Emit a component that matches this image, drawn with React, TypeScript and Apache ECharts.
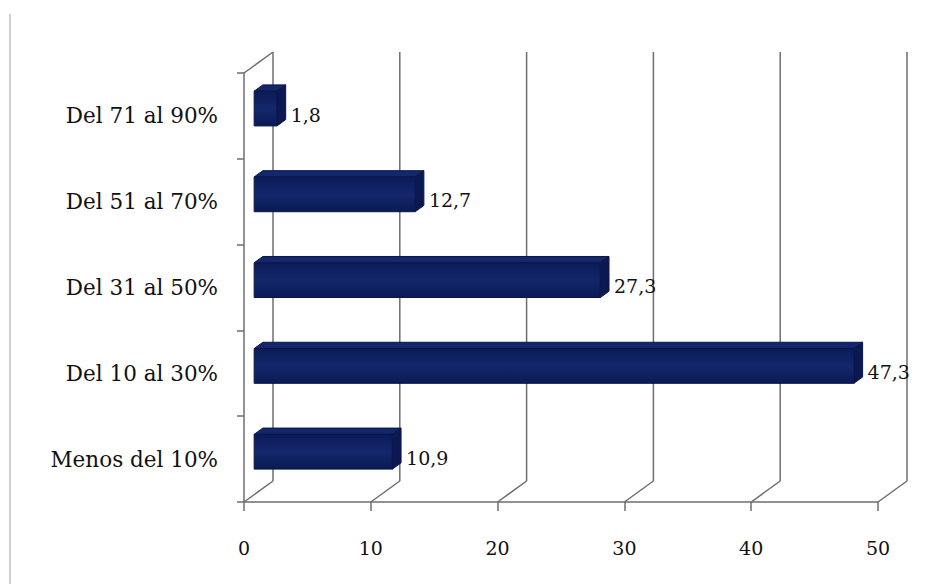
import React, { useEffect, useRef } from "react";
import * as echarts from "echarts";

// Categories bottom-to-top, as they appear on the vertical axis
const categories = [
  "Menos del 10%",
  "Del 10 al 30%",
  "Del 31 al 50%",
  "Del 51 al 70%",
  "Del 71 al 90%",
];
const percentages = [10.9, 47.3, 27.3, 12.7, 1.8];
const xTicks = [0, 10, 20, 30, 40, 50];

// Depth of the pseudo-3D box (back wall offset from the front plane)
const DEPTH_X = 29;
const DEPTH_Y = -21;
const FONT = "DejaVu Serif";

const fmt = (v: number) => String(v).replace(".", ",");

export default function App() {
  const ref = useRef<HTMLDivElement>(null);

  useEffect(() => {
    if (!ref.current) return;
    const chart = echarts.init(ref.current, undefined, { renderer: "svg" });

    const frameItem = (params: any, api: any) => {
      const v = api.value(0);
      const cs = params.coordSys;
      const x = api.coord([v, 0])[0];
      const top = cs.y;
      const bottom = cs.y + cs.height;
      const lineStyle = { stroke: "#6e6e6e", lineWidth: 1.5 };
      const children: any[] = [
        {
          type: "line",
          shape: { x1: x + DEPTH_X, y1: top + DEPTH_Y, x2: x + DEPTH_X, y2: bottom + DEPTH_Y },
          style: lineStyle,
        },
        {
          type: "line",
          shape: { x1: x, y1: bottom, x2: x + DEPTH_X, y2: bottom + DEPTH_Y },
          style: lineStyle,
        },
      ];
      if (params.dataIndex === 0) {
        children.push({
          type: "line",
          shape: { x1: x, y1: top, x2: x + DEPTH_X, y2: top + DEPTH_Y },
          style: lineStyle,
        });
      }
      return { type: "group", children };
    };

    const barItem = (params: any, api: any) => {
      const value = api.value(0);
      const idx = api.value(1);
      const start = api.coord([0, idx]);
      const end = api.coord([value, idx]);
      const band = api.size([0, 1])[1];
      const h = band * 0.405;
      const fdx = DEPTH_X * 0.35;
      const fdy = DEPTH_Y * 0.35;
      const bdx = DEPTH_X * 0.65;
      const bdy = DEPTH_Y * 0.65;

      const x0f = start[0] + fdx;
      const x1f = end[0] + fdx;
      const ycf = start[1] + fdy;
      const x0b = start[0] + bdx;
      const x1b = end[0] + bdx;
      const ycb = start[1] + bdy;
      const topF = ycf - h / 2;
      const botF = ycf + h / 2;
      const topB = ycb - h / 2;
      const botB = ycb + h / 2;

      return {
        type: "group",
        children: [
          {
            type: "polygon",
            shape: { points: [[x0f, topF], [x0b, topB], [x1b, topB], [x1f, topF]] },
            style: { fill: "#14276a", stroke: "#0a1549", lineWidth: 1 },
          },
          {
            type: "polygon",
            shape: { points: [[x1f, topF], [x1b, topB], [x1b, botB], [x1f, botF]] },
            style: { fill: "#0b1852", stroke: "#0a1549", lineWidth: 1 },
          },
          {
            type: "rect",
            shape: { x: x0f, y: topF, width: x1f - x0f, height: h },
            style: {
              fill: new echarts.graphic.LinearGradient(0, 0, 0, 1, [
                { offset: 0, color: "#0c1b58" },
                { offset: 0.5, color: "#13276b" },
                { offset: 1, color: "#0b1a55" },
              ]),
              stroke: "#0a1549",
              lineWidth: 1,
            },
          },
          {
            type: "text",
            style: {
              text: fmt(value),
              x: x1b + 5,
              y: ycf + 6,
              align: "left",
              verticalAlign: "middle",
              fill: "#111111",
              font: `19px "${FONT}"`,
            },
          },
        ],
      };
    };

    chart.setOption({
      animation: false,
      backgroundColor: "#ffffff",
      grid: { left: 244, top: 73, width: 634, height: 429 },
      xAxis: {
        type: "value",
        min: 0,
        max: 50,
        interval: 10,
        splitLine: { show: false },
        axisLine: { show: true, lineStyle: { color: "#6e6e6e", width: 1.5 } },
        axisTick: { show: true, length: 9, lineStyle: { color: "#6e6e6e", width: 1.5 } },
        axisLabel: {
          margin: 36,
          color: "#111111",
          fontFamily: FONT,
          fontSize: 19,
        },
      },
      yAxis: {
        type: "category",
        data: categories,
        axisLine: { show: true, lineStyle: { color: "#6e6e6e", width: 1.5 } },
        axisTick: { show: true, length: 7, lineStyle: { color: "#6e6e6e", width: 1.5 } },
        axisLabel: {
          margin: 26,
          color: "#111111",
          fontFamily: FONT,
          fontSize: 21.5,
        },
      },
      graphic: [
        {
          type: "line",
          shape: { x1: 10, y1: 14, x2: 10, y2: 584 },
          style: { stroke: "#cfcfcf", lineWidth: 2 },
          silent: true,
        },
      ],
      series: [
        {
          type: "custom",
          name: "frame",
          renderItem: frameItem,
          data: xTicks.map((t) => [t]),
          encode: { x: 0 },
          silent: true,
          z: 1,
        },
        {
          type: "custom",
          name: "Porcentaje",
          renderItem: barItem,
          data: percentages.map((v, i) => [v, i]),
          encode: { x: 0, y: 1 },
          z: 2,
        },
      ],
    });

    return () => chart.dispose();
  }, []);

  return (
    <div
      ref={ref}
      style={{ position: "fixed", left: 0, top: 0, width: 945, height: 584, background: "#fff" }}
    />
  );
}
